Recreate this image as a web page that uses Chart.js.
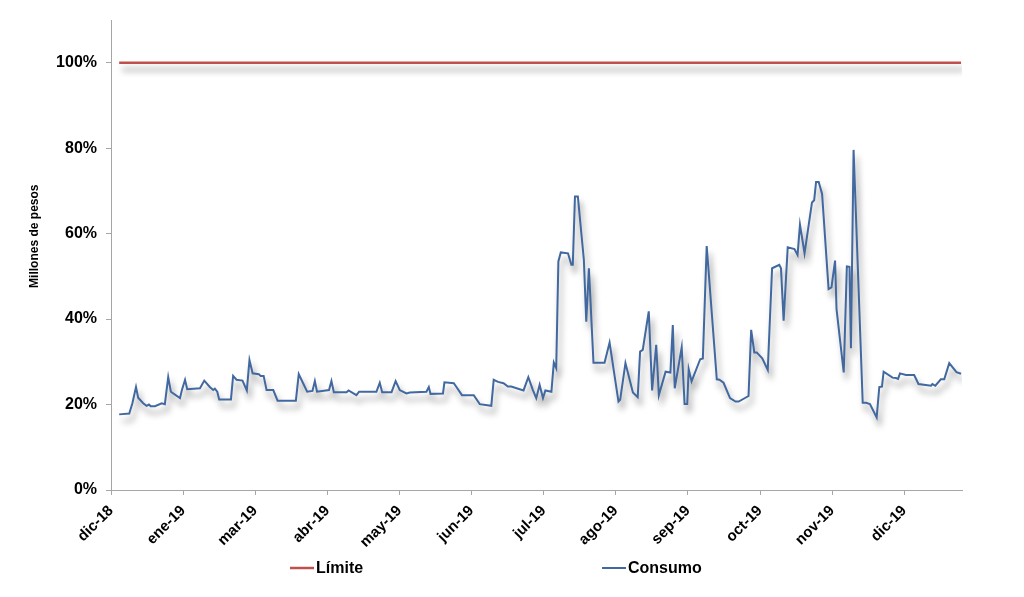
<!DOCTYPE html>
<html>
<head>
<meta charset="utf-8">
<script src="https://cdn.jsdelivr.net/npm/chart.js@4.4.0/dist/chart.umd.min.js"></script>
<style>
html,body{margin:0;padding:0;background:#ffffff;}
#wrap{width:1024px;height:597px;position:relative;}
</style>
</head>
<body>
<div id="wrap"><canvas id="c" width="1024" height="597"></canvas></div>
<script>
// ---- Data ----
const tickLabels = ['dic-18','ene-19','mar-19','abr-19','may-19','jun-19','jul-19','ago-19','sep-19','oct-19','nov-19','dic-19'];
const diasPorTick = 30;
const diaMax = 354;
const yTicks = [0, 20, 40, 60, 80, 100];

const limiteDias = [3.4, 353.6];
const limiteValores = [100, 100];

const consumoDias = [3.4,7.6,8.9,10.4,11.3,13.4,14.8,15.8,16.5,18.3,
21.1,22.4,23.8,24.9,28.7,29.5,30.8,31.7,37.0,38.8,
41.1,42.5,43.2,44.2,45.0,49.9,50.8,52.2,54.7,56.5,
57.6,58.9,61.5,62.3,63.5,64.7,67.5,69.3,76.9,78.1,
81.6,83.8,84.8,85.7,90.7,91.7,92.7,98.0,98.8,102.1,
103.2,110.4,111.8,112.8,116.7,118.4,120.1,122.9,124.3,131.2,
132.2,132.9,138.1,138.7,142.6,143.7,146.0,150.9,153.4,158.2,
159.2,161.0,163.3,165.1,166.5,171.6,173.6,175.5,176.9,178.3,
179.7,180.7,183.2,184.2,185.2,186.1,187.1,190.1,191.5,192.1,
193.0,194.2,196.7,197.7,198.8,200.7,205.3,207.4,211.1,211.8,
214.0,217.1,219.1,220.1,221.2,223.7,225.1,226.8,227.9,230.7,
232.7,233.7,234.5,237.4,238.6,239.7,240.3,241.5,245.1,246.2,
247.8,252.0,253.1,254.8,257.5,259.8,261.1,265.2,266.3,267.6,
268.6,270.9,273.2,275.0,278.0,278.7,279.8,281.5,284.3,285.6,
286.6,288.5,291.6,292.5,293.3,294.4,295.8,298.5,299.7,301.2,
301.8,304.8,306.1,307.2,307.8,308.9,312.7,314.1,315.7,318.5,
319.6,320.7,321.4,325.1,326.5,327.4,328.2,330.7,334.1,335.9,
339.7,341.1,341.7,342.9,345.2,346.6,348.7,351.7,353.6];

const consumoValores = [17.7,17.9,20.3,24.1,21.6,20.3,19.7,20.0,19.6,19.6,
20.3,20.1,26.4,23.0,21.5,23.4,25.8,23.6,23.8,25.6,
24.1,23.4,23.7,23.0,21.2,21.2,26.7,25.8,25.6,23.3,
30.4,27.3,27.1,26.7,26.7,23.4,23.4,20.9,20.9,27.1,
23.0,23.2,25.5,23.0,23.4,25.5,22.9,22.9,23.3,22.2,
23.0,23.0,25.1,22.9,22.9,25.5,23.4,22.6,22.8,23.0,
24.1,22.5,22.6,25.2,25.0,24.1,22.2,22.2,20.1,19.7,
25.8,25.3,25.0,24.2,24.2,23.3,26.4,23.4,21.5,24.6,
21.5,23.3,23.0,29.8,28.5,53.5,55.6,55.4,52.7,52.7,
68.7,68.7,53.9,39.4,51.9,29.8,29.8,34.5,20.7,21.1,
29.7,22.8,21.7,32.4,32.8,41.8,23.3,34.0,22.2,27.7,
27.5,38.6,23.8,33.4,20.1,20.1,28.3,25.4,30.6,30.8,
57.1,25.9,25.8,25.1,21.5,20.7,20.7,22.0,37.5,32.2,
32.2,30.8,28.1,51.9,52.7,51.9,39.6,56.8,56.4,55.0,
62.1,55.4,67.3,67.8,72.1,72.1,69.3,47.0,47.4,53.7,
42.4,27.5,52.3,52.2,33.2,79.6,20.4,20.4,20.1,17.0,
24.1,24.2,27.7,26.3,26.2,26.0,27.3,26.9,26.9,24.8,
24.5,24.4,24.8,24.4,25.9,25.9,29.7,27.6,27.2];

const yTitle = 'Millones de pesos';
const FONT = "'Liberation Sans', Arial, sans-serif";

function pairs(xs, ys) { return xs.map((x, i) => ({ x: x, y: ys[i] })); }

// Shadow under lines (Excel-like outer shadow)
const shadowPlugin = {
  id: 'shadow',
  beforeDatasetDraw(chart) {
    const ctx = chart.ctx;
    ctx.save();
    ctx.shadowColor = 'rgba(0,0,0,0.40)';
    ctx.shadowBlur = 6;
    ctx.shadowOffsetX = 3;
    ctx.shadowOffsetY = 7;
  },
  afterDatasetDraw(chart) { chart.ctx.restore(); }
};

// Y title and legend drawn from chart data
const extrasPlugin = {
  id: 'extras',
  afterDraw(chart) {
    const ctx = chart.ctx;
    const area = chart.chartArea;
    ctx.save();
    ctx.fillStyle = '#000';
    ctx.font = 'bold 12px ' + FONT;
    ctx.translate(35, area.top + (area.bottom - area.top) * 0.46);
    ctx.rotate(-Math.PI / 2);
    ctx.textAlign = 'center';
    ctx.textBaseline = 'middle';
    ctx.fillText(yTitle, 0, 0);
    ctx.restore();

    // legend
    const legendStarts = [290, 602];
    const legendY = 569;
    ctx.save();
    ctx.font = 'bold 16px ' + FONT;
    ctx.textBaseline = 'middle';
    ctx.textAlign = 'left';
    chart.data.datasets.forEach((ds, i) => {
      const x0 = legendStarts[i];
      ctx.strokeStyle = ds.borderColor;
      ctx.lineWidth = ds.borderWidth;
      ctx.beginPath();
      ctx.moveTo(x0, legendY - 1);
      ctx.lineTo(x0 + 24, legendY - 1);
      ctx.stroke();
      ctx.fillStyle = '#000';
      ctx.fillText(ds.label, x0 + 26, legendY);
    });
    ctx.restore();
  }
};

new Chart(document.getElementById('c'), {
  type: 'line',
  data: {
    datasets: [
      { label: 'Límite', data: pairs(limiteDias, limiteValores), borderColor: '#c0504d', borderWidth: 2.5, pointRadius: 0, tension: 0, fill: false },
      { label: 'Consumo', data: pairs(consumoDias, consumoValores), borderColor: '#41689f', borderWidth: 2, pointRadius: 0, tension: 0, fill: false }
    ]
  },
  options: {
    responsive: false,
    animation: false,
    devicePixelRatio: 1,
    layout: { padding: { left: 0, right: 62, top: 20, bottom: 0 } },
    plugins: { legend: { display: false }, tooltip: { enabled: false } },
    scales: {
      x: {
        type: 'linear',
        min: 0,
        max: diaMax,
        afterBuildTicks(scale) { scale.ticks = tickLabels.map((_, i) => ({ value: i * diasPorTick })); },
        afterFit(scale) { scale.height = 107; },
        grid: { display: true, drawOnChartArea: false, drawTicks: true, tickLength: 5, color: '#a6a6a6' },
        border: { display: true, color: '#a6a6a6', width: 1 },
        ticks: {
          autoSkip: false,
          maxRotation: 45,
          minRotation: 45,
          padding: 7,
          color: '#000',
          font: { family: FONT, size: 15, weight: 'bold' },
          callback(v) { return tickLabels[Math.round(v / diasPorTick)]; }
        }
      },
      y: {
        min: 0,
        max: 110,
        afterBuildTicks(scale) { scale.ticks = yTicks.map(v => ({ value: v })); },
        afterFit(scale) { scale.width = 111; },
        grid: { display: true, drawOnChartArea: false, drawTicks: true, tickLength: 5, color: '#a6a6a6' },
        border: { display: true, color: '#a6a6a6', width: 1 },
        ticks: {
          padding: 9,
          color: '#000',
          font: { family: FONT, size: 16, weight: 'bold' },
          callback(v) { return v + '%'; }
        }
      }
    }
  },
  plugins: [shadowPlugin, extrasPlugin]
});
</script>
</body>
</html>
